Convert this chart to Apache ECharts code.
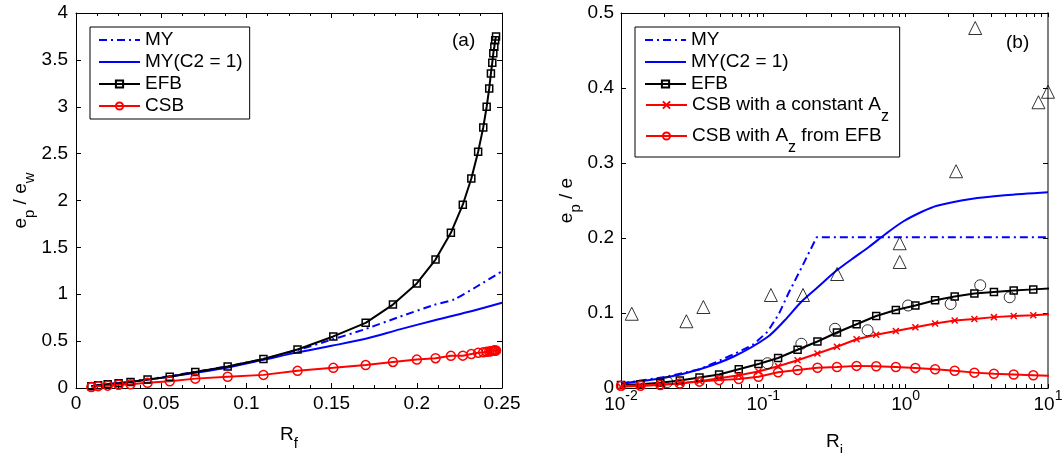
<!DOCTYPE html>
<html>
<head>
<meta charset="utf-8">
<script src="https://cdn.jsdelivr.net/npm/echarts@6/dist/echarts.min.js"></script>
<style>
html, body { margin: 0; padding: 0; background: #fff; }
#chart { width: 1062px; height: 453px; }
</style>
</head>
<body>
<div id="chart"></div>
<script>
// panel (a): e_p / e_w against R_f
const rfMarks = [0.009, 0.013, 0.0186, 0.025, 0.032, 0.042, 0.055, 0.07, 0.089, 0.11, 0.13, 0.151, 0.17, 0.186, 0.2, 0.211, 0.22, 0.227, 0.232, 0.236, 0.239, 0.241, 0.2425, 0.2435, 0.2443, 0.2449, 0.2455, 0.246, 0.2465]
const efbA = [0.02, 0.03, 0.04, 0.05, 0.065, 0.09, 0.12, 0.17, 0.23, 0.31, 0.41, 0.55, 0.695, 0.89, 1.115, 1.37, 1.655, 1.955, 2.235, 2.52, 2.78, 3.0, 3.195, 3.355, 3.47, 3.57, 3.64, 3.71, 3.75]
const csbA = [0.01, 0.02, 0.025, 0.035, 0.04, 0.055, 0.072, 0.1, 0.12, 0.14, 0.183, 0.215, 0.245, 0.278, 0.303, 0.318, 0.343, 0.345, 0.362, 0.375, 0.382, 0.387, 0.39, 0.393, 0.396, 0.398, 0.4, 0.4, 0.4]
const myRf = [0.009, 0.03, 0.05, 0.07, 0.09, 0.11, 0.13, 0.15, 0.17, 0.19, 0.21, 0.222, 0.235, 0.25]
const myA = [0.02, 0.065, 0.112, 0.172, 0.235, 0.31, 0.405, 0.515, 0.63, 0.76, 0.885, 0.945, 1.08, 1.245]
const myC2Rf = [0.009, 0.03, 0.05, 0.07, 0.09, 0.11, 0.13, 0.15, 0.17, 0.19, 0.21, 0.23, 0.25]
const myC2A = [0.02, 0.062, 0.108, 0.162, 0.222, 0.3, 0.38, 0.45, 0.525, 0.625, 0.72, 0.81, 0.91]

// panel (b): e_p / e against R_i (log axis)
const riMarks = [0.01, 0.0137, 0.0189, 0.0259, 0.0356, 0.0489, 0.0672, 0.0924, 0.127, 0.174, 0.24, 0.329, 0.452, 0.621, 0.853, 1.17, 1.61, 2.21, 3.04, 4.17, 5.74, 7.88, 10.8]
const efbB = [0.004, 0.005, 0.007, 0.01, 0.014, 0.018, 0.025, 0.032, 0.04, 0.051, 0.062, 0.074, 0.085, 0.096, 0.104, 0.11, 0.117, 0.122, 0.126, 0.128, 0.13, 0.1315, 0.133]
const csbConstB = [0.0015, 0.003, 0.0045, 0.0065, 0.009, 0.013, 0.017, 0.022, 0.029, 0.037, 0.046, 0.055, 0.065, 0.071, 0.076, 0.081, 0.086, 0.09, 0.092, 0.0945, 0.096, 0.097, 0.0985]
const csbEfbB = [0.003, 0.003, 0.004, 0.006, 0.0085, 0.0105, 0.012, 0.015, 0.021, 0.024, 0.027, 0.028, 0.0295, 0.029, 0.028, 0.0268, 0.025, 0.023, 0.0205, 0.019, 0.018, 0.017, 0.016]
const myRi = [0.01, 0.0207, 0.0358, 0.062, 0.085, 0.107, 0.128, 0.149, 0.185, 0.237, 10]
const myB = [0.006, 0.015, 0.025, 0.045, 0.058, 0.075, 0.098, 0.125, 0.16, 0.201, 0.201]
const myC2Ri = [0.01, 0.0207, 0.0358, 0.062, 0.107, 0.141, 0.185, 0.243, 0.319, 0.42, 0.551, 0.73, 0.96, 1.3, 1.66, 2.87, 4.97, 10]
const myC2B = [0.006, 0.014, 0.025, 0.042, 0.068, 0.09, 0.115, 0.135, 0.155, 0.172, 0.188, 0.206, 0.222, 0.235, 0.243, 0.252, 0.257, 0.261]
const triRi = [0.0119, 0.0288, 0.0379, 0.113, 0.19, 0.33, 0.908, 0.908, 2.26, 3.08, 8.57, 10]
const triB = [0.099, 0.089, 0.108, 0.124, 0.124, 0.152, 0.193, 0.168, 0.289, 0.48, 0.381, 0.395]
const circRi = [0.0211, 0.107, 0.185, 0.319, 0.54, 1.04, 2.07, 3.34, 5.38]
const circB = [0.008, 0.033, 0.059, 0.079, 0.077, 0.11, 0.112, 0.137, 0.121]

// tick positions of the log axis
const decadeTicks = [0.01, 0.1, 1, 10]
const minorSteps = [2, 3, 4, 5, 6, 7, 8, 9]

const FONT = '"Liberation Sans", Arial, Helvetica, sans-serif'
const BLUE = '#0000ff'
const RED = '#ff0000'
const NONE = 'rgba(0,0,0,0)'
const DASHDOT = [8, 4, 2, 4]

const pairs = (xs, ys) => xs.map((x, i) => [x, ys[i]])

const logTicks = []
decadeTicks.slice(0, 3).forEach(d => {
  logTicks.push(d)
  minorSteps.forEach(k => logTicks.push(+(k * d).toPrecision(3)))
})
logTicks.push(10)

const nameRich = {
  m: { fontSize: 19, lineHeight: 24, fontFamily: FONT, color: '#000' },
  s: { fontSize: 15, lineHeight: 24, fontFamily: FONT, color: '#000', padding: [18, 0, 0, 0] }
}
const legendRich = {
  s: { fontSize: 16, lineHeight: 20, fontFamily: FONT, color: '#000', padding: [24, 0, 0, 0] }
}
const labelRich = {
  b: { fontSize: 19, lineHeight: 20, fontFamily: FONT, color: '#000' },
  p: { fontSize: 14, lineHeight: 20, fontFamily: FONT, color: '#000', padding: [0, 0, 17, 0] }
}
const legendText = { fontSize: 19, lineHeight: 20, color: '#000', fontFamily: FONT, rich: legendRich }

const blackLine = { color: '#000', width: 1 }

function xBox (gridIndex, position, extra) {
  return Object.assign({
    gridIndex,
    position,
    axisLine: { show: true, onZero: false, lineStyle: blackLine },
    axisTick: { show: true, inside: true, length: 5, lineStyle: blackLine },
    splitLine: { show: false },
    axisLabel: { show: false }
  }, extra)
}

function yBox (gridIndex, position, extra) {
  return Object.assign({
    gridIndex,
    position,
    type: 'value',
    axisLine: { show: true, onZero: false, lineStyle: blackLine },
    axisTick: { show: true, inside: true, length: 5, lineStyle: blackLine },
    splitLine: { show: false },
    axisLabel: { show: false }
  }, extra)
}

const linearX = {
  type: 'value', min: 0, max: 0.25, interval: 0.05,
  minorTick: { show: true, splitNumber: 4, length: 3, lineStyle: blackLine },
  minorSplitLine: { show: false }
}
const logX = {
  type: 'log', logBase: 10, min: 0.01, max: 10,
  axisTick: { show: true, inside: true, length: 4, lineStyle: blackLine, customValues: logTicks }
}

// lines drawn without markers keep an invisible legend symbol
const plainLine = (dashed) => ({
  symbol: 'none', z: 2,
  lineStyle: { color: BLUE, width: 2, type: dashed ? DASHDOT : 'solid' },
  itemStyle: { color: NONE, borderColor: NONE, borderWidth: 0 }
})

const chart = echarts.init(document.getElementById('chart'), null, { renderer: 'canvas' })

chart.setOption({
  animation: false,
  backgroundColor: '#fff',
  textStyle: { fontFamily: FONT },
  title: [
    { text: '(a)', left: 452, top: 31, padding: 0, textStyle: { fontSize: 19, fontWeight: 'normal', color: '#000', fontFamily: FONT } },
    { text: '(b)', left: 1006, top: 33, padding: 0, textStyle: { fontSize: 19, fontWeight: 'normal', color: '#000', fontFamily: FONT } }
  ],
  grid: [
    { left: 76, top: 13, width: 426, height: 375, outerBoundsMode: 'none' },
    { left: 621, top: 13, width: 427, height: 375, outerBoundsMode: 'none' }
  ],
  legend: [
    {
      data: ['MY', 'MY(C2 = 1)', 'EFB', 'CSB'],
      orient: 'vertical', left: 90, top: 27,
      padding: [3, 7, 3, 8], itemGap: 2, itemWidth: 41, itemHeight: 9,
      borderColor: '#000', borderWidth: 1, backgroundColor: '#fff',
      selectedMode: false,
      textStyle: legendText
    },
    {
      // box of the panel (b) legend, holding its first three entries
      data: ['MY', 'MY(C2 = 1)', 'EFB'],
      orient: 'vertical', left: 635, top: 27,
      padding: [3, 111, 63, 9], itemGap: 2, itemWidth: 41, itemHeight: 9,
      borderColor: '#000', borderWidth: 1, backgroundColor: '#fff',
      selectedMode: false,
      textStyle: legendText
    },
    {
      data: ['CSB with a constant Az'],
      orient: 'vertical', left: 636, top: 85,
      padding: [0, 0, 0, 9], itemWidth: 41, itemHeight: 9,
      selectedMode: false,
      formatter: () => 'CSB with a constant A{s|z}',
      textStyle: legendText
    },
    {
      data: ['CSB with Az from EFB'],
      orient: 'vertical', left: 636, top: 116,
      padding: [0, 0, 0, 9], itemWidth: 41, itemHeight: 9,
      selectedMode: false,
      formatter: () => 'CSB with A{s|z} from EFB',
      textStyle: legendText
    }
  ],
  xAxis: [
    xBox(0, 'bottom', Object.assign({}, linearX, {
      axisLabel: { show: true, color: '#000', fontSize: 19, fontFamily: FONT, margin: 6, showMinLabel: true, showMaxLabel: true },
      name: '{m|R}{s|f}', nameLocation: 'middle', nameGap: 31,
      nameTextStyle: { rich: nameRich }
    })),
    xBox(0, 'top', Object.assign({}, linearX)),
    xBox(1, 'bottom', Object.assign({}, logX, {
      axisLabel: {
        show: true, margin: 7, customValues: decadeTicks, showMinLabel: true, showMaxLabel: true,
        formatter: v => '{b|10}{p|' + Math.round(Math.log10(v)) + '}',
        rich: labelRich
      },
      name: '{m|R}{s|i}', nameLocation: 'middle', nameGap: 33,
      nameTextStyle: { rich: nameRich }
    })),
    xBox(1, 'top', Object.assign({}, logX))
  ],
  yAxis: [
    yBox(0, 'left', {
      min: 0, max: 4, interval: 0.5,
      axisLabel: { show: true, color: '#000', fontSize: 19, fontFamily: FONT, margin: 8, showMinLabel: true, showMaxLabel: true },
      name: '{m|e}{s|p}{m| / e}{s|w}', nameLocation: 'middle', nameRotate: 90, nameGap: 40,
      nameTextStyle: { rich: nameRich }
    }),
    yBox(0, 'right', { min: 0, max: 4, interval: 0.5 }),
    yBox(1, 'left', {
      min: 0, max: 0.5, interval: 0.1,
      axisLabel: { show: true, color: '#000', fontSize: 19, fontFamily: FONT, margin: 7, showMinLabel: true, showMaxLabel: true },
      name: '{m|e}{s|p}{m| / e}', nameLocation: 'middle', nameRotate: 90, nameGap: 41,
      nameTextStyle: { rich: nameRich }
    }),
    yBox(1, 'right', {
      min: 0, max: 0.5, interval: 0.1,
      axisLine: { show: true, onZero: false, lineStyle: { color: '#7f7f7f', width: 2 } }
    })
  ],
  series: [
    // panel (a)
    Object.assign({ name: 'MY', type: 'line', xAxisIndex: 0, yAxisIndex: 0, data: pairs(myRf, myA), smooth: 0.2 }, plainLine(true)),
    Object.assign({ name: 'MY(C2 = 1)', type: 'line', xAxisIndex: 0, yAxisIndex: 0, data: pairs(myC2Rf, myC2A), smooth: 0.3 }, plainLine(false)),
    {
      name: 'EFB', type: 'line', xAxisIndex: 0, yAxisIndex: 0, data: pairs(rfMarks, efbA),
      symbol: 'rect', symbolSize: 7, z: 3,
      lineStyle: { color: '#000', width: 2 },
      itemStyle: { color: NONE, borderColor: '#000', borderWidth: 1.5 }
    },
    {
      name: 'CSB', type: 'line', xAxisIndex: 0, yAxisIndex: 0, data: pairs(rfMarks, csbA),
      symbol: 'circle', symbolSize: 9, z: 3,
      lineStyle: { color: RED, width: 2 },
      itemStyle: { color: NONE, borderColor: RED, borderWidth: 1.5 }
    },
    // panel (b)
    Object.assign({ name: 'MY', type: 'line', xAxisIndex: 2, yAxisIndex: 2, data: pairs(myRi, myB) }, plainLine(true)),
    Object.assign({ name: 'MY(C2 = 1)', type: 'line', xAxisIndex: 2, yAxisIndex: 2, data: pairs(myC2Ri, myC2B), smooth: 0.3 }, plainLine(false)),
    {
      name: 'EFB', type: 'line', xAxisIndex: 2, yAxisIndex: 2, data: pairs(riMarks, efbB),
      symbol: 'rect', symbolSize: 7, z: 3,
      lineStyle: { color: '#000', width: 2 },
      itemStyle: { color: NONE, borderColor: '#000', borderWidth: 1.5 }
    },
    {
      name: 'CSB with a constant Az', type: 'line', xAxisIndex: 2, yAxisIndex: 2, data: pairs(riMarks, csbConstB),
      symbol: 'path://M0,0L10,10M10,0L0,10', symbolSize: 6, z: 3,
      lineStyle: { color: RED, width: 2 },
      itemStyle: { color: NONE, borderColor: RED, borderWidth: 1.5 }
    },
    {
      name: 'CSB with Az from EFB', type: 'line', xAxisIndex: 2, yAxisIndex: 2, data: pairs(riMarks, csbEfbB),
      symbol: 'circle', symbolSize: 9, z: 3,
      lineStyle: { color: RED, width: 2 },
      itemStyle: { color: NONE, borderColor: RED, borderWidth: 1.5 }
    },
    {
      name: 'triangles', type: 'scatter', xAxisIndex: 2, yAxisIndex: 2, data: pairs(triRi, triB),
      symbol: 'triangle', symbolSize: 13, z: 4, clip: false,
      itemStyle: { color: NONE, borderColor: '#000', borderWidth: 1 }
    },
    {
      name: 'circles', type: 'scatter', xAxisIndex: 2, yAxisIndex: 2, data: pairs(circRi, circB),
      symbol: 'circle', symbolSize: 11, z: 4,
      itemStyle: { color: NONE, borderColor: '#000', borderWidth: 1 }
    }
  ]
})
</script>
</body>
</html>
